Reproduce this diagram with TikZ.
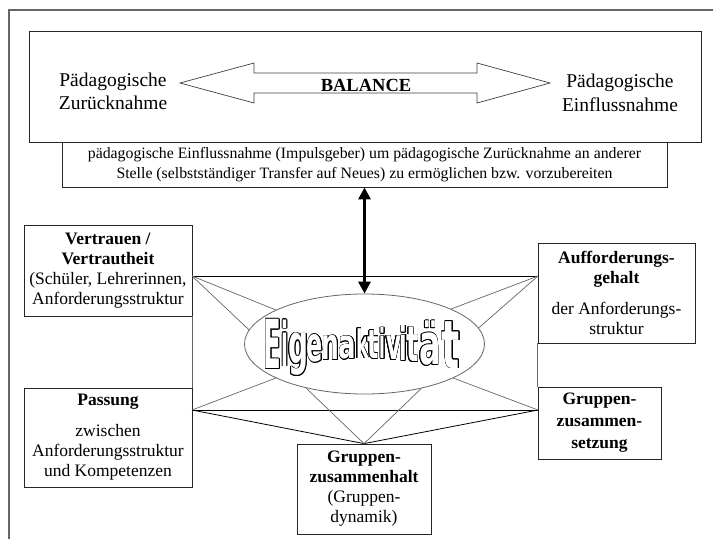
\documentclass[tikz,border=0pt]{standalone}
\usepackage{fontspec}
\setmainfont{Liberation Serif}
\newfontfamily\eigfont{DejaVu Sans}
\usepackage{contour}
\contourlength{0.6pt}
\usetikzlibrary{shapes.geometric,arrows.meta}

\tikzset{
  box/.style={draw=black!85, line width=0.8pt, fill=white, align=center, inner sep=0pt,
    font=\fontsize{17.5}{20}\selectfont},
  fan/.style={draw=black!60, line width=0.7pt},
  link/.style={draw=black, line width=0.8pt},
  bigtip/.tip={Triangle[length=12pt,width=12pt]}
}

\begin{document}
\begin{tikzpicture}[x=1pt,y=-1pt]
  \useasboundingbox (0,0) rectangle (713,539);
  % frame
  \draw[black!60, line width=1.2pt] (713,10) -- (9,10) -- (9,539);

  % Balance
  \node[box, minimum width=672, minimum height=111] (top) at (365,86.5) {};
  \node[font=\fontsize{19.5}{23}\selectfont, align=center] (zur) at (113,91) {Pädagogische\\Zurücknahme};
  \node[font=\fontsize{19.5}{24}\selectfont, align=center] (ein) at (620,93) {Pädagogische\\Einflussnahme};
  \draw[black!75, line width=0.7pt, fill=white] (180,83) -- (254,63) -- (254,73) -- (477,73) -- (477,63)
    -- (550,83) -- (477,103) -- (477,93) -- (254,93) -- (254,103) -- cycle;
  \node[font=\bfseries\fontsize{18.5}{20}\selectfont] (bal) at (366,85) {BALANCE};
  \node[box, minimum width=605, minimum height=45, font=\fontsize{15.8}{20}\selectfont] (band) at (364.5,164.5)
    {pädagogische Einflussnahme (Impulsgeber) um pädagogische Zurücknahme an anderer\\
     Stelle (selbstständiger Transfer auf Neues) zu ermöglichen bzw. vorzubereiten};

  % Eigenaktivitaet
  \node[ellipse, draw=black!60, line width=0.8pt, fill=white, minimum width=240, minimum height=100,
    inner sep=0pt] (eig) at (364.5,344) {};
  \foreach \ch/\xc/\hx [count=\n] in {E/272.5/1.3, i/285/1.0, g/298.5/1.4, e/315/1.2, n/330.5/1.25,
      a/347.5/1.3, k/362.5/0.95, t/373/1.2, i/382.5/0.85, v/393.5/1.15, i/403.5/1.1, t/412.5/1.3,
      ä/430/1.6, t/451/1.9} {
    \pgfmathsetmacro\s{1-0.45*sin(180*((\xc-265)/195))}
    \pgfmathsetmacro\vs{3.57*\s}
    \node[anchor=base, inner sep=0pt, text=white] (ltr\n) at (\xc,{344+26*\s})
      {\contour{black}{\scalebox{\hx}[\vs]{\eigfont\bfseries\fontsize{20}{20}\selectfont \ch}}};
  }

  \draw[link, line width=3.2pt, {bigtip}-{bigtip}] (band.south) -- (eig.north);

  % boxes around
  \node[box, minimum width=168, minimum height=91] (vert) at (108,270.5)
    {\textbf{Vertrauen /}\\\textbf{Vertrautheit}\\(Schüler, Lehrerinnen,\\Anforderungsstruktur};
  \node[box, minimum width=157, minimum height=100] (auf) at (616.5,293)
    {\textbf{Aufforderungs-}\\\textbf{gehalt}\\[11pt]der Anforderungs-\\struktur};
  \node[box, minimum width=168, minimum height=99] (pass) at (108,437.5)
    {\textbf{Passung}\\[11pt]zwischen\\Anforderungsstruktur\\und Kompetenzen};
  \node[box, minimum width=123, minimum height=72, font=\bfseries\fontsize{17.5}{22}\selectfont] (gzs) at (599.5,423)
    {Gruppen-\\zusammen-\\setzung};
  \node[box, minimum width=134, minimum height=90] (gzh) at (364,489)
    {\textbf{Gruppen-}\\\textbf{zusammenhalt}\\(Gruppen-\\dynamik)};

  \coordinate (vr) at (192,276);
  \coordinate (ar) at (538,276);
  \coordinate (pr) at (192,410);
  \coordinate (gr) at (538,410);

  \draw[fan] (vert.south east) -- (pass.north east);
  \draw[fan] (auf.south west) -- (gzs.north west);
  \draw[link] (vr) -- (ar);
  \draw[link] (pr) -- (gr);
  \draw[link] (pr) -- (gzh.north) -- (gr);
  \draw[fan] (vr) -- (eig.159);
  \draw[fan] (vr) -- (eig.173);
  \draw[fan] (ar) -- (eig.22);
  \draw[fan] (ar) -- (eig.8);
  \draw[fan] (pr) -- (eig.201);
  \draw[fan] (gr) -- (eig.339);
  \draw[fan] (gzh.north) -- (eig.217);
  \draw[fan] (gzh.north) -- (eig.322.5);
\end{tikzpicture}
\end{document}
